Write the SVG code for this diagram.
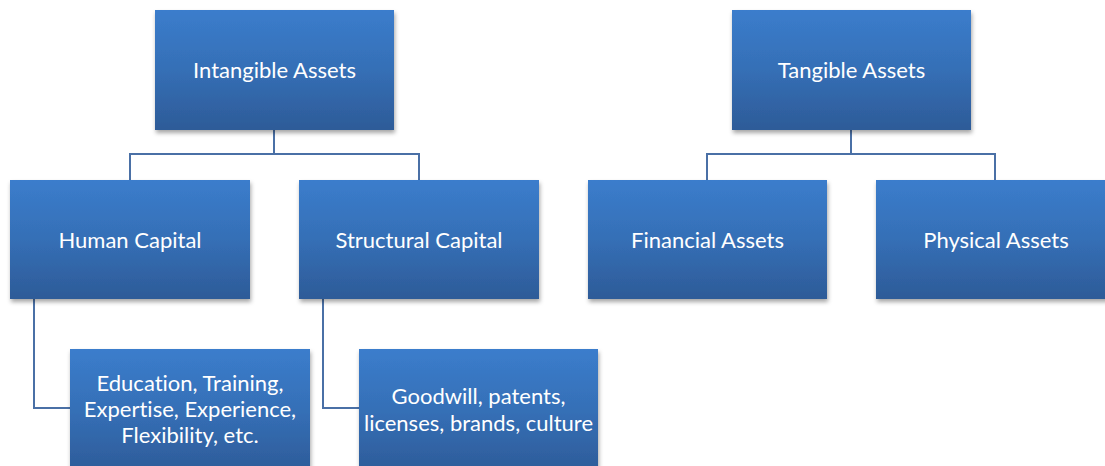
<svg xmlns="http://www.w3.org/2000/svg" width="1105" height="466" viewBox="0 0 1105 466">
<defs>
<linearGradient id="g" x1="0" y1="0" x2="0" y2="1">
<stop offset="0" stop-color="#3b7dcc"/>
<stop offset="0.5" stop-color="#356fb6"/>
<stop offset="1" stop-color="#2d5b98"/>
</linearGradient>
<filter id="sh" x="-10%" y="-10%" width="125%" height="130%">
<feDropShadow dx="1" dy="3" stdDeviation="2" flood-color="#000" flood-opacity="0.35"/>
</filter>
</defs>
<style>
.box{fill:url(#g);filter:url(#sh)}
.t{font-family:Lato,"Open Sans",sans-serif;font-size:22px;fill:#fff;text-anchor:middle;font-variant-ligatures:none}
.c{fill:none;stroke:#4a70a6;stroke-width:2}
</style>
<g id="connectors">
<path class="c" d="M274 130V154M130 180V154H419V180"/>
<path class="c" d="M851 130V154M707 180V154H995V180"/>
<path class="c" d="M34 299V408H70"/>
<path class="c" d="M323 299V408H359"/>
</g>
<g id="intangible"><rect class="box" x="155" y="10" width="239" height="120"/><text class="t" x="274.5" y="78">Intangible Assets</text></g>
<g id="tangible"><rect class="box" x="732" y="10" width="239" height="120"/><text class="t" x="851.5" y="78">Tangible Assets</text></g>
<g id="human"><rect class="box" x="10" y="180" width="240" height="119"/><text class="t" x="130" y="248">Human Capital</text></g>
<g id="structural"><rect class="box" x="299" y="180" width="240" height="119"/><text class="t" x="419" y="248">Structural Capital</text></g>
<g id="financial"><rect class="box" x="588" y="180" width="239" height="119"/><text class="t" x="707.5" y="248">Financial Assets</text></g>
<g id="physical"><rect class="box" x="876" y="180" width="239" height="119"/><text class="t" x="996" y="248">Physical Assets</text></g>
<g id="education"><rect class="box" x="70" y="349" width="240" height="125"/><text class="t" x="190" y="391">Education, Training,</text><text class="t" x="190" y="417">Expertise, Experience,</text><text class="t" x="190" y="443">Flexibility, etc.</text></g>
<g id="goodwill"><rect class="box" x="359" y="349" width="239" height="125"/><text class="t" x="478.5" y="404">Goodwill, patents,</text><text class="t" x="478.5" y="431">licenses, brands, culture</text></g>
</svg>
